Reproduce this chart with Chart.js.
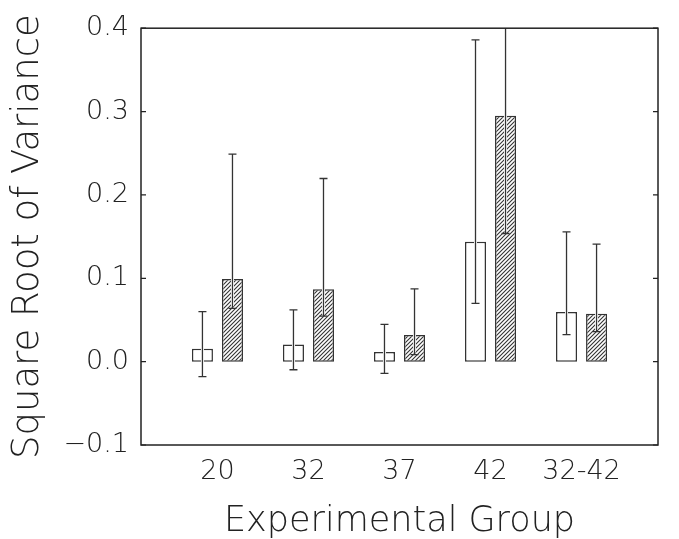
<!DOCTYPE html>
<html>
<head>
<meta charset="utf-8">
<script src="https://cdn.jsdelivr.net/npm/chart.js@4/dist/chart.umd.min.js"></script>
<style>
  html, body { margin: 0; padding: 0; background: #fff; }
  canvas { display: block; }
</style>
</head>
<body>
<canvas id="chart" width="679" height="539"></canvas>
<script>
/* data */
const groups = ["20", "32", "37", "42", "32-42"];
const openVals = [0.0155, 0.0207, 0.0117, 0.1439, 0.0595];
const openLow = [-0.018, -0.0097, -0.014, 0.070, 0.0323];
const openHigh = [0.060, 0.062, 0.0447, 0.386, 0.1556];
const hatchVals = [0.099, 0.0867, 0.0319, 0.295, 0.0575];
const hatchLow = [0.064, 0.0545, 0.0085, 0.1537, 0.036];
const hatchHigh = [0.249, 0.2197, 0.0872, 0.45, 0.141];
const yTicks = [-0.1, 0.0, 0.1, 0.2, 0.3, 0.4];

const errors = [
  { low: openLow, high: openHigh },
  { low: hatchLow, high: hatchHigh }
];

const ink = "#222";
const fontFamily = "'DejaVu Sans', sans-serif";

/** diagonal hatch fill */
function makeHatch() {
  const s = 4;
  const c = document.createElement("canvas");
  c.width = s; c.height = s;
  const g = c.getContext("2d");
  g.fillStyle = "#fff";
  g.fillRect(0, 0, s, s);
  g.strokeStyle = "#333";
  g.lineWidth = 1.1;
  g.beginPath();
  g.moveTo(0, s); g.lineTo(s, 0);
  g.moveTo(-1, 1); g.lineTo(1, -1);
  g.moveTo(s - 1, s + 1); g.lineTo(s + 1, s - 1);
  g.stroke();
  return g.createPattern(c, "repeat");
}

/** frame round the plot with small inward ticks */
const framePlugin = {
  id: "frame",
  afterDraw(chart) {
    const { ctx, chartArea: a, scales: { y } } = chart;
    ctx.save();
    ctx.strokeStyle = "#222";
    ctx.lineWidth = 1.5;
    ctx.strokeRect(a.left, a.top, a.right - a.left, a.bottom - a.top);
    ctx.lineWidth = 1.2;
    ctx.beginPath();
    yTicks.forEach(v => {
      const py = y.getPixelForValue(v);
      ctx.moveTo(a.left, py); ctx.lineTo(a.left + 5, py);
      ctx.moveTo(a.right, py); ctx.lineTo(a.right - 5, py);
    });
    ctx.stroke();
    ctx.restore();
  }
};

/** asymmetric error bars with caps */
const errorBarPlugin = {
  id: "errorbars",
  afterDatasetsDraw(chart) {
    const { ctx, chartArea: a, scales: { y } } = chart;
    ctx.save();
    ctx.beginPath();
    ctx.rect(a.left, a.top, a.right - a.left, a.bottom - a.top);
    ctx.clip();
    chart.data.datasets.forEach((ds, d) => {
      chart.getDatasetMeta(d).data.forEach((bar, i) => {
        const x = bar.x;
        const top = y.getPixelForValue(errors[d].high[i]);
        const bottom = y.getPixelForValue(errors[d].low[i]);
        // white underlay so the line reads through the hatching
        ctx.strokeStyle = "#fff";
        ctx.lineWidth = 3;
        ctx.beginPath();
        ctx.moveTo(x, top + 2); ctx.lineTo(x, bottom - 2);
        ctx.stroke();
        ctx.strokeStyle = "#333";
        ctx.lineWidth = 1.3;
        ctx.beginPath();
        ctx.moveTo(x, top); ctx.lineTo(x, bottom);
        ctx.moveTo(x - 4, top); ctx.lineTo(x + 4, top);
        ctx.moveTo(x - 4, bottom); ctx.lineTo(x + 4, bottom);
        ctx.stroke();
      });
    });
    ctx.restore();
  }
};

const ctx = document.getElementById("chart").getContext("2d");
const barOpts = {
  borderColor: "#333",
  borderWidth: 1.5,
  borderSkipped: false,
  categoryPercentage: 0.66,
  barPercentage: 0.7
};

new Chart(ctx, {
  type: "bar",
  data: {
    datasets: [
      Object.assign({
        label: "open",
        data: groups.map((g, i) => ({ x: i + 1, y: openVals[i] })),
        backgroundColor: "#fff"
      }, barOpts),
      Object.assign({
        label: "hatched",
        data: groups.map((g, i) => ({ x: i + 1, y: hatchVals[i] })),
        backgroundColor: makeHatch()
      }, barOpts)
    ]
  },
  options: {
    responsive: false,
    animation: false,
    layout: { padding: { left: 0, right: 21, top: 17, bottom: 0 } },
    plugins: { legend: { display: false }, tooltip: { enabled: false } },
    scales: {
      x: {
        type: "linear",
        offset: false,
        min: 0.16,
        max: 5.84,
        grid: { display: false, drawTicks: false },
        border: { display: false },
        afterBuildTicks: s => { s.ticks = groups.map((g, i) => ({ value: i + 1 })); },
        afterFit: s => { s.height = 94; },
        ticks: {
          callback: v => groups[Math.round(v) - 1],
          padding: 11,
          color: ink,
          font: { family: fontFamily, size: 27, weight: "200" }
        },
        title: {
          display: true,
          text: "Experimental Group",
          color: ink,
          padding: { top: 0, bottom: 0 },
          font: { family: fontFamily, size: 35, weight: "200", lineHeight: 1 }
        }
      },
      y: {
        min: -0.1,
        max: 0.4,
        grid: { display: false, drawTicks: false },
        border: { display: false },
        afterBuildTicks: s => { s.ticks = yTicks.map(v => ({ value: v })); },
        afterFit: s => { s.width = 141; },
        ticks: {
          callback: v => (v < 0 ? "\u2212" : "") + Math.abs(v).toFixed(1),
          padding: 12,
          color: ink,
          font: { family: fontFamily, size: 27, weight: "200" }
        },
        title: {
          display: true,
          text: "Square Root of Variance",
          color: ink,
          padding: { top: 10, bottom: 0 },
          font: { family: fontFamily, size: 37, weight: "200", lineHeight: 1 }
        }
      }
    }
  },
  plugins: [framePlugin, errorBarPlugin]
});
</script>
</body>
</html>
